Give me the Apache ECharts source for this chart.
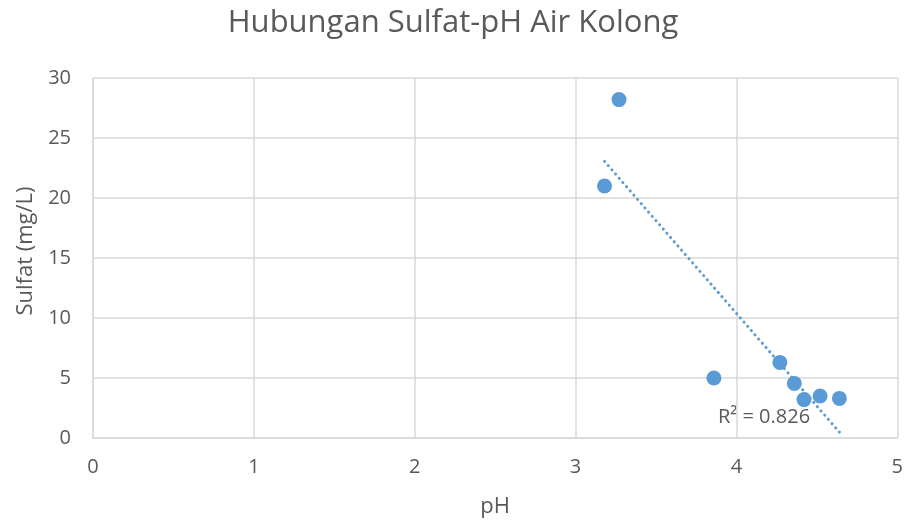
<!DOCTYPE html>
<html>
<head>
<meta charset="utf-8">
<script src="https://cdn.jsdelivr.net/npm/echarts@6/dist/echarts.min.js"></script>
<style>
  html, body { margin: 0; padding: 0; background: #fff; }
  #chart { width: 906px; height: 524px; }
</style>
</head>
<body>
<div id="chart"></div>
<script>
// data
const phValues = [3.18, 3.27, 3.86, 4.27, 4.36, 4.42, 4.52, 4.64]
const sulfatValues = [21.0, 28.2, 5.0, 6.3, 4.55, 3.2, 3.5, 3.3]
const xTicks = [0, 1, 2, 3, 4, 5]
const yTicks = [0, 5, 10, 15, 20, 25, 30]
const r2Text = 'R² = 0.826'

const blue = '#5B9BD5'
const grey = '#595959'
const font = 'Open Sans'

// linear trend line (least squares) from the points
function trend (xs, ys) {
  const n = xs.length
  const mx = xs.reduce((a, b) => a + b, 0) / n
  const my = ys.reduce((a, b) => a + b, 0) / n
  let sxy = 0
  let sxx = 0
  for (let i = 0; i < n; i++) {
    sxy += (xs[i] - mx) * (ys[i] - my)
    sxx += (xs[i] - mx) * (xs[i] - mx)
  }
  const k = sxy / sxx
  const b = my - k * mx
  const x0 = Math.min(...xs)
  const x1 = Math.max(...xs)
  return [[x0, k * x0 + b], [x1, k * x1 + b]]
}

const points = phValues.map((x, i) => [x, sulfatValues[i]])
const chart = echarts.init(document.getElementById('chart'))

const option = {
  backgroundColor: '#fff',
  animation: false,
  textStyle: { fontFamily: font },
  title: {
    text: 'Hubungan Sulfat-pH Air Kolong',
    left: 'center',
    top: 3,
    textStyle: { fontFamily: font, fontSize: 31, fontWeight: 'normal', color: grey }
  },
  grid: { left: 93, right: 7, top: 78, bottom: 86 },
  xAxis: {
    type: 'value',
    min: xTicks[0],
    max: xTicks[xTicks.length - 1],
    interval: 1,
    name: 'pH',
    nameLocation: 'middle',
    nameGap: 58,
    nameTextStyle: { fontSize: 22, color: grey },
    axisLine: { show: true, lineStyle: { color: '#d9d9d9', width: 1.5 } },
    axisTick: { show: false },
    axisLabel: { fontSize: 20, color: grey, margin: 19 },
    splitLine: { show: true, lineStyle: { color: '#d9d9d9', width: 1.5 } }
  },
  yAxis: {
    type: 'value',
    min: yTicks[0],
    max: yTicks[yTicks.length - 1],
    interval: 5,
    name: 'Sulfat (mg/L)',
    nameLocation: 'middle',
    nameGap: 56,
    nameTextStyle: { fontSize: 22, color: grey, padding: [0, 0, 0, 14] },
    axisLine: { show: true, lineStyle: { color: '#d9d9d9', width: 1.5 } },
    axisTick: { show: false },
    axisLabel: { fontSize: 20, color: grey, margin: 22 },
    splitLine: { show: true, lineStyle: { color: '#d9d9d9', width: 1.5 } }
  },
  series: [
    {
      type: 'line',
      data: trend(phValues, sulfatValues),
      showSymbol: false,
      symbol: 'none',
      z: 2,
      lineStyle: { color: blue, width: 3, type: [0.1, 5.5], cap: 'round' }
    },
    {
      type: 'scatter',
      data: points,
      symbolSize: 15,
      z: 3,
      itemStyle: { color: blue, opacity: 1 }
    }
  ],
  graphic: [
    {
      type: 'text',
      left: 718,
      top: 407,
      style: { text: r2Text, fill: grey, font: '20px "Open Sans"' }
    }
  ]
}

chart.setOption(option)
</script>
</body>
</html>
